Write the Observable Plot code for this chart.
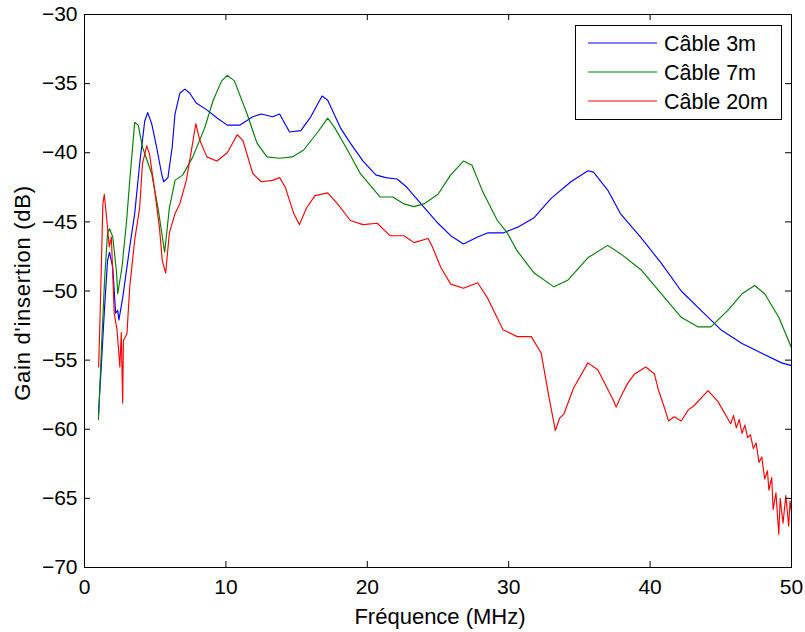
<!DOCTYPE html>
<html><head><meta charset="utf-8">
<script src="https://cdn.jsdelivr.net/npm/d3@7"></script>
<script src="https://cdn.jsdelivr.net/npm/@observablehq/plot@0.6"></script>
<style>
body{margin:0;background:#fff;}
#wrap{position:relative;width:805px;height:632px;font-family:"Liberation Sans",Arial,sans-serif;}
#legend{position:absolute;left:575px;top:25px;}
</style></head><body><div id="wrap"></div>
<script>
const seriesNames = ["Câble 3m", "Câble 7m", "Câble 20m"];
const seriesColors = ["#0000ff", "#008000", "#ff0000"];
const xTicks = [0, 10, 20, 30, 40, 50];
const yTicks = [-70, -65, -60, -55, -50, -45, -40, -35, -30];
const xLabel = "Fréquence (MHz)";
const yLabel = "Gain d'insertion (dB)";

const cable3m = [[0.99,-58.9],[1.2,-55.2],[1.42,-51.2],[1.63,-47.8],[1.77,-47.2],[2.0,-48.3],[2.2,-51.6],[2.35,-51.4],[2.43,-52.1],[2.7,-50.5],[3.2,-46.8],[3.55,-44.4],[3.9,-40.8],[4.26,-37.7],[4.47,-37.1],[4.75,-37.9],[5.1,-39.6],[5.45,-41.5],[5.6,-42.1],[5.9,-41.8],[6.2,-39.6],[6.4,-37.2],[6.74,-35.7],[7.1,-35.4],[7.45,-35.7],[7.9,-36.4],[8.65,-36.9],[9.4,-37.5],[10.1,-38.0],[11.0,-38.0],[11.9,-37.4],[12.5,-37.2],[13.3,-37.4],[13.8,-37.2],[14.5,-38.5],[15.3,-38.4],[16.0,-37.4],[16.8,-35.9],[17.2,-36.2],[18.1,-38.2],[18.8,-39.3],[19.7,-40.6],[20.6,-41.6],[21.3,-41.8],[22.1,-41.9],[22.8,-42.5],[23.8,-43.7],[25.0,-45.1],[25.9,-46.0],[26.8,-46.6],[27.8,-46.1],[28.5,-45.8],[29.6,-45.8],[30.6,-45.4],[31.8,-44.7],[33.0,-43.3],[34.4,-42.1],[35.6,-41.3],[36.0,-41.4],[37.0,-42.7],[37.9,-44.4],[39.4,-46.2],[40.8,-48.0],[42.2,-50.0],[43.6,-51.4],[45.0,-52.8],[46.5,-53.8],[47.9,-54.5],[49.3,-55.2],[50.0,-55.4]];

const cable7m = [[0.99,-59.3],[1.2,-54.1],[1.42,-49.2],[1.63,-45.8],[1.77,-45.5],[2.0,-46.1],[2.27,-48.7],[2.35,-50.2],[2.65,-48.3],[2.98,-44.9],[3.2,-42.0],[3.55,-37.8],[3.8,-38.0],[4.1,-39.6],[4.75,-41.5],[5.2,-44.0],[5.67,-47.2],[6.0,-44.0],[6.4,-42.0],[6.95,-41.6],[7.66,-40.3],[8.5,-38.2],[9.1,-36.2],[9.7,-34.8],[10.1,-34.4],[10.6,-34.8],[11.5,-37.2],[12.2,-39.3],[12.9,-40.3],[13.8,-40.4],[14.7,-40.3],[15.5,-39.8],[16.5,-38.5],[17.2,-37.5],[17.7,-38.2],[18.6,-39.8],[19.5,-41.5],[20.4,-42.6],[20.9,-43.2],[21.8,-43.2],[22.6,-43.7],[23.3,-43.9],[24.0,-43.7],[25.0,-43.0],[25.9,-41.6],[26.8,-40.6],[27.4,-40.9],[28.2,-42.9],[29.2,-44.9],[29.9,-45.8],[30.6,-47.1],[31.8,-48.7],[33.2,-49.7],[34.2,-49.2],[35.6,-47.6],[37.0,-46.7],[37.9,-47.3],[39.4,-48.5],[40.8,-50.2],[42.2,-51.9],[43.4,-52.6],[44.3,-52.6],[45.5,-51.4],[46.5,-50.2],[47.4,-49.6],[48.1,-50.2],[49.1,-51.9],[50.0,-54.1]];

const cable20m = [[1.0,-55.5],[1.1,-51.9],[1.3,-43.7],[1.4,-43.0],[1.6,-45.1],[1.75,-46.8],[1.9,-46.1],[2.1,-51.6],[2.3,-52.8],[2.5,-55.5],[2.6,-53.0],[2.7,-58.1],[2.75,-53.6],[3.0,-53.1],[3.2,-49.7],[3.55,-46.3],[3.9,-44.0],[4.1,-40.8],[4.4,-39.5],[4.6,-40.1],[4.96,-42.7],[5.3,-45.4],[5.5,-47.8],[5.74,-48.7],[6.0,-45.8],[6.4,-44.4],[6.74,-43.7],[7.2,-42.0],[7.6,-39.6],[7.87,-37.9],[8.16,-39.1],[8.65,-40.3],[9.36,-40.6],[10.1,-40.0],[10.8,-38.7],[11.2,-39.1],[11.9,-41.5],[12.5,-42.1],[13.3,-42.0],[13.8,-41.8],[14.2,-42.5],[14.8,-44.4],[15.2,-45.2],[15.7,-44.0],[16.3,-43.1],[17.2,-42.9],[17.9,-43.7],[18.8,-44.9],[19.7,-45.2],[20.7,-45.1],[21.6,-46.0],[22.6,-46.0],[23.3,-46.5],[24.3,-46.2],[24.6,-46.8],[25.0,-47.8],[25.2,-48.3],[25.9,-49.5],[26.8,-49.8],[27.8,-49.4],[28.5,-50.5],[29.6,-52.8],[30.6,-53.3],[31.6,-53.3],[32.3,-54.5],[32.8,-57.4],[33.3,-60.1],[33.6,-59.2],[33.9,-58.9],[34.6,-57.0],[35.6,-55.2],[36.3,-55.7],[37.4,-57.9],[37.6,-58.4],[37.9,-57.7],[38.4,-56.7],[38.9,-56.0],[39.7,-55.5],[40.3,-56.0],[40.6,-57.2],[41.0,-58.4],[41.3,-59.4],[41.7,-59.1],[42.2,-59.4],[42.7,-58.6],[43.1,-58.3],[44.1,-57.2],[44.8,-58.0],[45.7,-59.6],[45.9,-59.0],[46.1,-59.9],[46.3,-59.3],[46.5,-60.3],[46.7,-59.7],[46.9,-60.6],[47.1,-60.4],[47.3,-61.4],[47.5,-61.0],[47.7,-62.4],[47.9,-62.0],[48.1,-63.6],[48.3,-63.0],[48.4,-64.4],[48.6,-63.5],[48.7,-65.8],[48.9,-64.6],[49.1,-67.6],[49.2,-65.0],[49.4,-66.8],[49.6,-64.8],[49.8,-67.0],[49.9,-65.2],[50.0,-66.0]];

const seriesValues = [cable3m, cable7m, cable20m];
const data = seriesValues.flatMap((vals, i) => vals.map(([f, g]) => ({series: seriesNames[i], f, g})));

const font = "Liberation Sans, Arial, sans-serif";
const W = 805, H = 632, mL = 84, mR = 14, mT = 14, mB = 65, tick = 6;
const chart = Plot.plot({
  width: W, height: H,
  marginLeft: mL, marginRight: mR, marginTop: mT, marginBottom: mB,
  style: {fontFamily: font, fontSize: "21px", color: "#000", background: "#fff", overflow: "visible"},
  x: {domain: [0, 50]},
  y: {domain: [-70, -30]},
  color: {domain: seriesNames, range: seriesColors},
  marks: [
    Plot.line(data, {x: "f", y: "g", z: "series", stroke: "series", strokeWidth: 1.15}),
    Plot.frame({stroke: "#000", strokeWidth: 1}),
    Plot.ruleX(xTicks, {x: d => d, insetTop: H - mT - mB - tick, stroke: "#000"}),
    Plot.ruleX(xTicks, {x: d => d, insetBottom: H - mT - mB - tick, stroke: "#000"}),
    Plot.ruleY(yTicks, {y: d => d, insetRight: W - mL - mR - tick, stroke: "#000"}),
    Plot.ruleY(yTicks, {y: d => d, insetLeft: W - mL - mR - tick, stroke: "#000"}),
    Plot.axisX({anchor: "bottom", ticks: xTicks, tickSize: 0, tickPadding: 12, label: null, fontSize: 21}),
    Plot.axisY({anchor: "left", ticks: yTicks, tickSize: 0, tickPadding: 7, label: null, fontSize: 21}),
    Plot.text([xLabel], {text: d => d, frameAnchor: "bottom", lineAnchor: "top", textAnchor: "middle", dy: 41, dx: 2, fontSize: 22}),
    Plot.text([yLabel], {text: d => d, frameAnchor: "left", rotate: -90, lineAnchor: "top", textAnchor: "middle", dx: -70, dy: 2, fontSize: 22})
  ]
});
const wrap = document.getElementById("wrap");
wrap.appendChild(chart);
d3.select(chart).selectAll("text").filter(function() { return this.textContent === yLabel; })
  .style("letter-spacing", "0.75px");

// legend
const lg = d3.select(wrap).append("svg").attr("id", "legend").attr("width", 208).attr("height", 96)
  .style("font-family", font);
lg.append("rect").attr("x", 0.5).attr("y", 0.5).attr("width", 206).attr("height", 94)
  .attr("fill", "#fff").attr("stroke", "#000");
seriesNames.forEach((name, i) => {
  const yy = 18 + i * 29;
  lg.append("line").attr("x1", 13).attr("x2", 82).attr("y1", yy).attr("y2", yy)
    .attr("stroke", seriesColors[i]).attr("stroke-width", 1.1);
  lg.append("text").attr("x", 89).attr("y", yy + 8).attr("font-size", 21.5).text(name);
});
</script></body></html>
